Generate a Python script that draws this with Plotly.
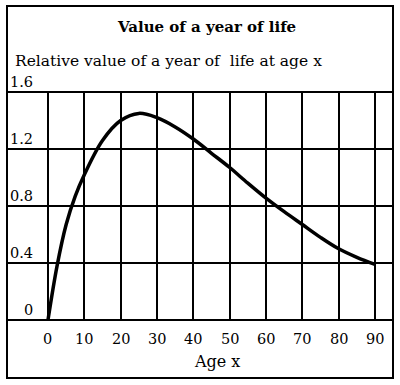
import plotly.graph_objects as go

# Data
ages = [0, 2.5, 5, 7.5, 10, 15, 20, 25, 30, 35, 40, 45, 50, 55, 60, 65, 70, 75, 80, 85, 90]
values = [0, 0.38, 0.67, 0.87, 1.02, 1.26, 1.40, 1.45, 1.42, 1.355, 1.27, 1.17, 1.07, 0.96,
          0.855, 0.76, 0.67, 0.58, 0.50, 0.44, 0.39]
x_ticks = [0, 10, 20, 30, 40, 50, 60, 70, 80, 90]
y_ticks = [0, 0.4, 0.8, 1.2, 1.6]
y_tick_labels = ["0", "0.4", "0.8", "1.2", "1.6"]
title_text = "Value of a year of life"
subtitle_text = "Relative value of a year of\u00a0 life at age x"
x_title = "Age x"

FONT = "DejaVu Serif"
W, H = 400, 385
L, R, T, B = 7, 393, 92, 320  # plot area in pixels


def px(xp):
    return (xp - L) / (R - L)


def py(yp):
    return (B - yp) / (B - T)


fig = go.Figure()
fig.add_trace(go.Scatter(x=ages, y=values, mode="lines",
                         line=dict(color="black", width=3.5, shape="spline", smoothing=1.0),
                         hoverinfo="skip", showlegend=False))

annotations = []
for v, t in zip(y_ticks, y_tick_labels):
    annotations.append(dict(x=px(35), xref="paper", xanchor="right", y=v, yref="y",
                            yanchor="bottom", yshift=0, text=t, showarrow=False,
                            font=dict(family=FONT, size=14.5, color="black")))
for v in x_ticks:
    annotations.append(dict(x=v, xref="x", xanchor="center", y=py(339), yref="paper",
                            yanchor="middle", text=str(v), showarrow=False,
                            font=dict(family=FONT, size=14.5, color="black")))
annotations.append(dict(x=px(217), xref="paper", xanchor="center", y=py(361), yref="paper",
                        yanchor="middle", text=x_title, showarrow=False,
                        font=dict(family=FONT, size=16, color="black")))
annotations.append(dict(x=px(207), xref="paper", xanchor="center", y=py(27), yref="paper",
                        yanchor="middle", text="<b>" + title_text + "</b>", showarrow=False,
                        font=dict(family=FONT, size=15, color="black")))
annotations.append(dict(x=px(13), xref="paper", xanchor="left", y=py(61), yref="paper",
                        yanchor="middle", text=subtitle_text, showarrow=False,
                        font=dict(family=FONT, size=15.5, color="black")))

shapes = [
    dict(type="rect", xref="paper", yref="paper", x0=0, x1=1, y0=0, y1=1,
         line=dict(color="black", width=2)),
    dict(type="rect", xref="paper", yref="paper", x0=0, x1=1, y0=py(378), y1=py(6),
         line=dict(color="black", width=2)),
]

fig.update_layout(
    width=W, height=H,
    margin=dict(l=L, r=W - R, t=T, b=H - B, pad=0),
    paper_bgcolor="white", plot_bgcolor="white",
    xaxis=dict(range=[-11.28, 94.95], tickvals=x_ticks, showticklabels=False, ticks="",
               showgrid=True, gridcolor="black", gridwidth=2, zeroline=False, showline=False,
               fixedrange=True),
    yaxis=dict(range=[0, 1.6], tickvals=y_ticks, showticklabels=False, ticks="",
               showgrid=True, gridcolor="black", gridwidth=2, zeroline=False, showline=False,
               fixedrange=True),
    annotations=annotations,
    shapes=shapes,
    showlegend=False,
)

fig.write_html("out.html", config={"displayModeBar": False},
               post_script="document.body.style.margin='0';")
